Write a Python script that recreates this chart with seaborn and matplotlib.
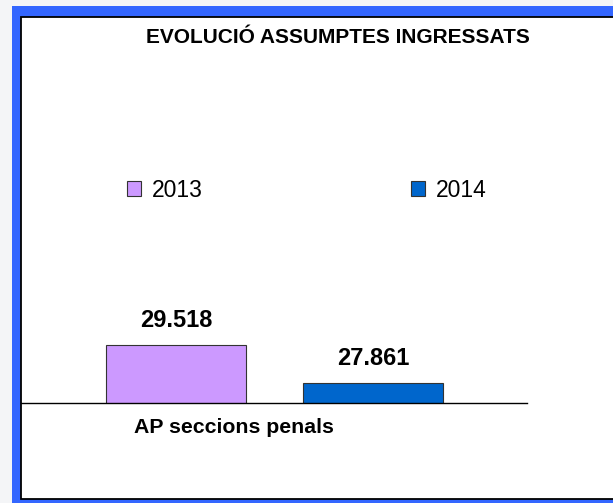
import matplotlib
matplotlib.use("Agg")
import matplotlib.pyplot as plt
import pandas as pd
import seaborn as sns
from matplotlib.patches import Rectangle

# data
categoria = ["AP seccions penals", "AP seccions penals"]
anys = ["2013", "2014"]
assumptes = [29518, 27861]
colors = ["#CC99FF", "#0066CC"]
title = "EVOLUCIÓ ASSUMPTES INGRESSATS"

df = pd.DataFrame({"categoria": categoria, "any": anys, "assumptes": assumptes})

sns.set_style("white")
plt.rcParams["font.family"] = ["Liberation Sans", "DejaVu Sans"]
plt.rcParams["text.color"] = "black"

W, H = 613, 503
fig = plt.figure(figsize=(W / 100, H / 100), dpi=100)
fig.patch.set_facecolor("#f4f5f7")


def px_rect(x0, y0, x1, y1, **kw):
    # rectangle given in pixel coords measured from the top-left corner
    return Rectangle((x0 / W, 1 - y1 / H), (x1 - x0) / W, (y1 - y0) / H,
                     transform=fig.transFigure, **kw)


# blue shadow frame and white chart area
fig.add_artist(px_rect(12, 6, 640, 520, facecolor="#3366FF", edgecolor="none", zorder=-3))
fig.add_artist(px_rect(21, 17, 640, 499, facecolor="white", edgecolor="black",
                       linewidth=1.3, zorder=-2))

ax = fig.add_axes([21 / W, 1 - 402.5 / H, 506 / W, 172.5 / H])
ax.set_facecolor("none")

sns.barplot(data=df, x="categoria", y="assumptes", hue="any", palette=colors,
            saturation=1, width=0.8, gap=0.289, edgecolor="#333333", linewidth=0.8,
            errorbar=None, ax=ax)

ax.set_ylim(27010, 34530)
ax.set_xlim(-0.5147, 0.5127)

for cont in ax.containers:
    ax.bar_label(cont, labels=[f"{v:,.0f}".replace(",", ".") for v in cont.datavalues],
                 padding=9, fontsize=17, fontweight="bold", color="black")

for s in ["top", "left", "right"]:
    ax.spines[s].set_visible(False)
ax.spines["bottom"].set_color("black")
ax.spines["bottom"].set_linewidth(1.0)
ax.set_yticks([])
ax.set_xticks([0.005])
ax.set_xticklabels([])
ax.tick_params(axis="x", direction="in", length=3, width=0.8, color="black")
ax.set_xticks([-0.5147, 0.5127], minor=True)
ax.tick_params(axis="x", which="minor", direction="out", length=4, width=1.5, color="#555555")
ax.set_xlabel("")
ax.set_ylabel("")

handles, labels = ax.get_legend_handles_labels()
ax.get_legend().remove()
fig.legend(handles, labels, ncol=2, loc="center", bbox_to_anchor=(306.5 / W, 1 - 190.5 / H),
           frameon=False, fontsize=16.5, handlelength=0.63, handleheight=0.63,
           handletextpad=0.45, columnspacing=9.1, labelcolor="black")

fig.text(338 / W, 1 - 42.7 / H, title, ha="center", va="baseline",
         fontsize=15, fontweight="bold", color="black")
fig.text(233.5 / W, 1 - 433.3 / H, categoria[0], ha="center", va="baseline",
         fontsize=15.3, fontweight="bold", color="black")

fig.savefig("out.png", dpi=100)
